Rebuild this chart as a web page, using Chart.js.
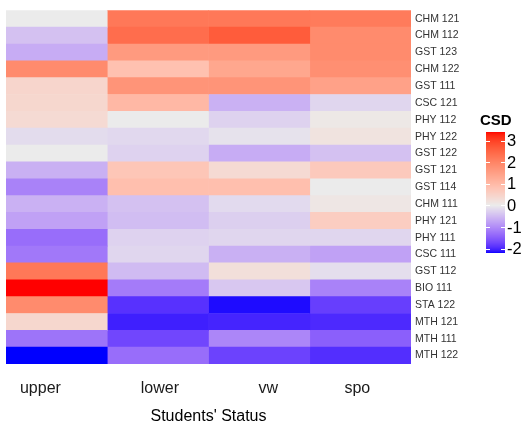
<!DOCTYPE html>
<html>
<head>
<meta charset="utf-8">
<script src="https://cdn.jsdelivr.net/npm/chart.js@4.4.1/dist/chart.umd.min.js"></script>
<style>
  html, body { margin: 0; padding: 0; background: #fff; }
  #wrap { width: 523px; height: 427px; }
</style>
</head>
<body>
<div id="wrap"><canvas id="heat"></canvas></div>
<script>
const rows = ['CHM 121','CHM 112','GST 123','CHM 122','GST 111','CSC 121','PHY 112','PHY 122','GST 122','GST 121',
  'GST 114','CHM 111','PHY 121','PHY 111','CSC 111','GST 112','BIO 111','STA 122','MTH 121','MTH 111','MTH 122'];
const cols = ['upper', 'lower', 'vw', 'spo'];

// CSD values per column, same order as rows
const upper = [0, -0.44, -0.66, 1.87, 0.44, 0.41, 0.34, -0.15, 0, -0.62, -1.1, -0.6, -0.77, -1.32, -1.21, 2.2, 3.4, 1.87, 0.41, -1.25, -2.2];
const lower = [2.2, 2.38, 1.6, 0.85, 1.7, 1.02, 0, -0.2, -0.26, 0.75, 0.88, -0.44, -0.48, -0.26, -0.22, -0.5, -1.17, -1.91, -2.05, -1.72, -1.32];
const vw    = [2.2, 2.65, 1.6, 1.36, 1.7, -0.6, -0.26, -0.09, -0.66, 0.34, 0.88, -0.18, -0.29, -0.22, -0.62, 0.24, -0.37, -2.16, -2.02, -1.06, -1.76];
const spo   = [2.15, 1.87, 1.87, 1.8, 1.46, -0.22, 0.07, 0.17, -0.44, 0.68, 0, 0.1, 0.61, -0.22, -0.77, -0.13, -1.1, -1.8, -1.98, -1.47, -1.94];
const legendTicks = [3, 2, 1, 0, -1, -2];

const values = [upper, lower, vw, spo];
const all = values.flat();
const lo = Math.min(...all), hi = Math.max(...all);

// colour scale: blue - grey - red, interpolated in Lab like ggplot
function lin(c) { c /= 255; return c <= 0.04045 ? c / 12.92 : Math.pow((c + 0.055) / 1.055, 2.4); }
function gam(c) { c = Math.max(0, Math.min(1, c)); return Math.round(255 * (c <= 0.0031308 ? 12.92 * c : 1.055 * Math.pow(c, 1 / 2.4) - 0.055)); }
function toLab(hex) {
  const r = lin(parseInt(hex.slice(1, 3), 16)), g = lin(parseInt(hex.slice(3, 5), 16)), b = lin(parseInt(hex.slice(5, 7), 16));
  const x = (0.4124 * r + 0.3576 * g + 0.1805 * b) / 0.95047;
  const y = 0.2126 * r + 0.7152 * g + 0.0722 * b;
  const z = (0.0193 * r + 0.1192 * g + 0.9505 * b) / 1.08883;
  const f = t => t > 0.008856 ? Math.cbrt(t) : 7.787 * t + 16 / 116;
  return [116 * f(y) - 16, 500 * (f(x) - f(y)), 200 * (f(y) - f(z))];
}
function fromLab(L, a, bb) {
  const fy = (L + 16) / 116, fx = fy + a / 500, fz = fy - bb / 200;
  const inv = t => t * t * t > 0.008856 ? t * t * t : (t - 16 / 116) / 7.787;
  const x = inv(fx) * 0.95047, y = inv(fy), z = inv(fz) * 1.08883;
  const r = 3.2406 * x - 1.5372 * y - 0.4986 * z;
  const g = -0.9689 * x + 1.8758 * y + 0.0415 * z;
  const b = 0.0557 * x - 0.2040 * y + 1.0570 * z;
  return 'rgb(' + gam(r) + ',' + gam(g) + ',' + gam(b) + ')';
}
const labLow = toLab('#0000FF'), labMid = toLab('#EBEBEB'), labHigh = toLab('#FF0000');
function fill(v) {
  const t = v >= 0 ? v / hi : v / lo;
  const end = v >= 0 ? labHigh : labLow;
  return fromLab(labMid[0] + (end[0] - labMid[0]) * t, labMid[1] + (end[1] - labMid[1]) * t, labMid[2] + (end[2] - labMid[2]) * t);
}

// colourbar legend
const colourBar = {
  id: 'colourBar',
  afterDraw(chart) {
    const ctx = chart.ctx;
    const x0 = 486, w = 19, top = 132, bot = 253;
    const yOf = v => top + (hi - v) / (hi - lo) * (bot - top);
    for (let y = top; y < bot; y++) {
      ctx.fillStyle = fill(hi - (y + 0.5 - top) / (bot - top) * (hi - lo));
      ctx.fillRect(x0, y, w, 1);
    }
    ctx.strokeStyle = '#fff';
    ctx.lineWidth = 1;
    ctx.fillStyle = '#000';
    ctx.font = '16.5px "Liberation Sans", Arial, sans-serif';
    ctx.textBaseline = 'middle';
    ctx.textAlign = 'left';
    legendTicks.forEach(t => {
      const y = Math.round(yOf(t)) + 0.5;
      ctx.beginPath();
      ctx.moveTo(x0, y); ctx.lineTo(x0 + 4, y);
      ctx.moveTo(x0 + w - 4, y); ctx.lineTo(x0 + w, y);
      ctx.stroke();
      ctx.fillText(String(t), 507, yOf(t) + 1);
    });
    ctx.font = 'bold 15px "Liberation Sans", Arial, sans-serif';
    ctx.fillText('CSD', 480, 121);
  }
};

new Chart(document.getElementById('heat'), {
  type: 'bar',
  data: {
    labels: rows,
    datasets: cols.map((c, ci) => ({
      label: c,
      data: rows.map(() => [ci, ci + 1]),
      backgroundColor: values[ci].map(fill),
      borderWidth: 0,
      barPercentage: 1,
      categoryPercentage: 1,
      grouped: false
    }))
  },
  options: {
    indexAxis: 'y',
    responsive: true,
    maintainAspectRatio: false,
    animation: false,
    layout: { padding: { top: 8, left: 6, right: 0, bottom: 0 } },
    plugins: { legend: { display: false }, tooltip: { enabled: false } },
    scales: {
      x: {
        type: 'linear', min: 0, max: 4,
        grid: { display: false }, border: { display: false },
        afterBuildTicks: s => { s.ticks = [0.34, 1.52, 2.59, 3.47].map(v => ({ value: v })); },
        ticks: {
          callback: (v, i) => cols[i],
          font: { family: '"Liberation Sans", Arial, sans-serif', size: 16 },
          color: '#1a1a1a', padding: 7, maxRotation: 0, autoSkip: false
        },
        title: {
          display: true, text: "Students' Status", color: '#000',
          font: { family: '"Liberation Sans", Arial, sans-serif', size: 16 },
          padding: { top: 4, bottom: 1 }
        },
        afterFit: s => { s.height = 63; }
      },
      y: {
        type: 'category', position: 'right', offset: true,
        grid: { display: false, drawTicks: false }, border: { display: false },
        ticks: {
          font: { family: '"Liberation Sans", Arial, sans-serif', size: 10.5 },
          color: '#333', padding: 4, autoSkip: false
        },
        afterFit: s => { s.width = 112; }
      }
    }
  },
  plugins: [colourBar]
});
</script>
</body>
</html>
